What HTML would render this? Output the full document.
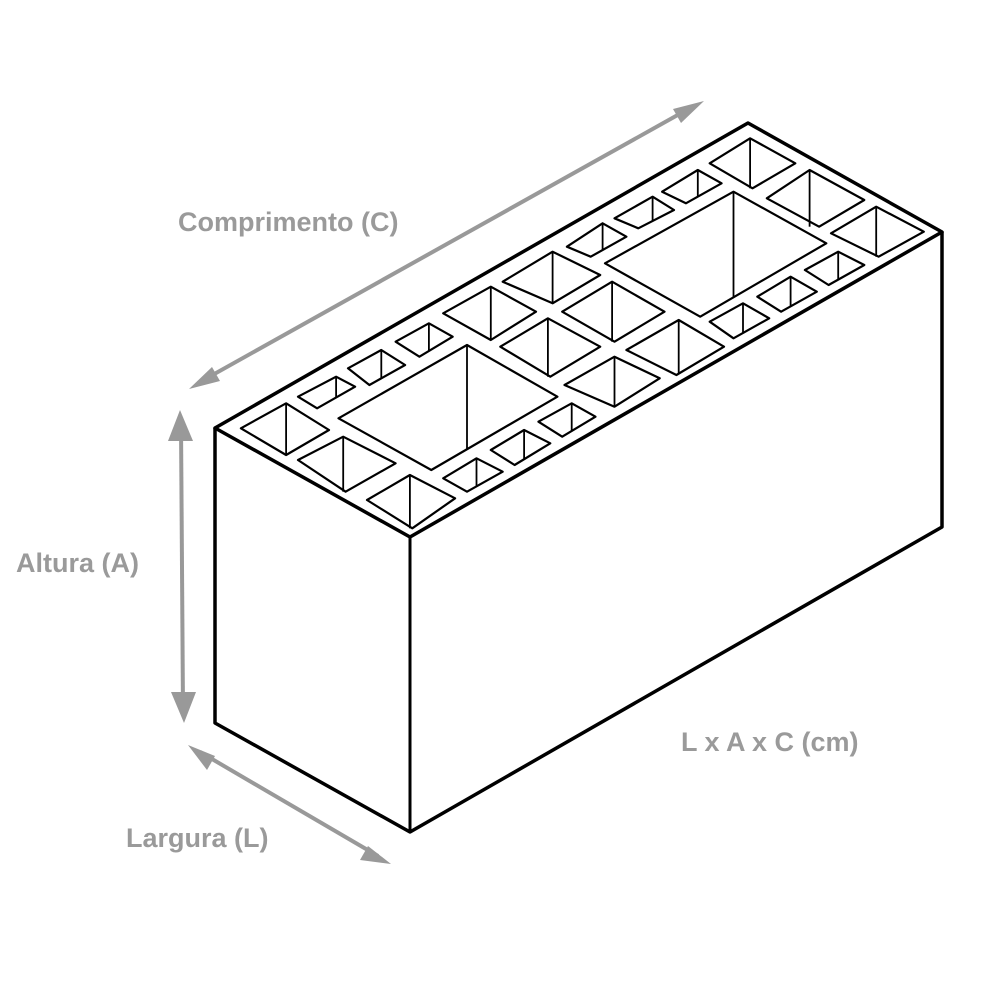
<!DOCTYPE html>
<html><head><meta charset="utf-8"><style>
html,body{margin:0;padding:0;background:#fff;}
svg{display:block}
text{font-family:"Liberation Sans",sans-serif;font-weight:bold;fill:#9a9a9a;font-size:27px}
</style></head><body>
<svg id="s" width="1000" height="1000" viewBox="0 0 1000 1000" xmlns="http://www.w3.org/2000/svg">
<g stroke="#999" stroke-width="4" fill="#999">
<line x1="200" y1="382" x2="692" y2="107"/>
<polygon points="189,389 212,367 220,381" stroke="none"/>
<polygon points="704,101 681,123 673,109" stroke="none"/>
<line x1="181" y1="425" x2="183" y2="710"/>
<polygon points="180,410 168,441 193,441" stroke="none"/>
<polygon points="184,723 171,692 196,692" stroke="none"/>
<line x1="200" y1="752" x2="378" y2="856"/>
<polygon points="188,745 207,770 215,756" stroke="none"/>
<polygon points="391,864 360,860 368,846" stroke="none"/>
</g>
<text x="178" y="231">Comprimento (C)</text>
<text x="16" y="572">Altura (A)</text>
<text x="126" y="847">Largura (L)</text>
<text x="681" y="751">L x A x C (cm)</text>
<g id="box" fill="none" stroke="#000" stroke-linejoin="round">
<polygon points="215,428 748,123 942,232 410,537" stroke-width="3.5"/>
<polyline points="215,428 215,723 410,832 942,527 942,232" stroke-width="3.5"/>
<line x1="410" y1="537" x2="410" y2="832" stroke-width="3"/>
</g>
<g id="holes" fill="none" stroke="#000" stroke-width="2.2" stroke-linejoin="round"></g>
</svg>
<script>
var sx=740/1555, sy=1/3;
var H=[
[[65,925],[160,850],[250,930],[160,1005]],
[[185,1020],[280,950],[390,1030],[285,1115]],
[[330,1140],[420,1065],[515,1135],[425,1225]],
[[270,895],[540,675],[730,830],[465,1050]],
[[185,830],[265,770],[305,800],[225,865]],
[[290,745],[360,690],[410,735],[335,795]],
[[390,665],[460,610],[510,650],[440,710]],
[[490,580],[590,500],[685,575],[590,660]],
[[615,485],[720,395],[820,465],[720,550]],
[[750,380],[825,310],[875,350],[800,410]],
[[850,295],[930,230],[975,270],[900,325]],
[[950,215],[1025,150],[1075,190],[1000,250]],
[[1050,130],[1135,55],[1230,130],[1140,205]],
[[1170,235],[1260,150],[1375,240],[1280,320]],
[[1305,340],[1400,260],[1500,335],[1405,410]],
[[830,430],[1100,215],[1295,370],[1030,590]],
[[1250,450],[1320,395],[1375,435],[1300,495]],
[[1150,530],[1220,470],[1275,515],[1200,575]],
[[1050,605],[1120,550],[1175,595],[1100,655]],
[[740,575],[845,485],[955,575],[850,665]],
[[610,680],[710,595],[820,680],[715,770]],
[[875,690],[985,600],[1080,680],[980,765]],
[[745,795],[850,710],[945,775],[850,860]],
[[690,905],[760,850],[810,890],[740,950]],
[[590,990],[660,930],[715,970],[640,1035]],
[[490,1075],[560,1015],[615,1055],[540,1115]]
];
var g=document.getElementById('holes'),out='';
H.forEach(function(h){
 var p=h.map(function(q){return [q[0]*sx+210,q[1]*sy+120];});
 out+='<polygon points="'+p.map(function(q){return q[0].toFixed(1)+','+q[1].toFixed(1)}).join(' ')+'"/>';
 var t=p[1],r=p[2],b=p[3],x=t[0],y;
 var a=(r[0]-b[0]);
 if(Math.abs(a)<0.01)y=b[1];else{var k=(x-b[0])/a;k=Math.max(0,Math.min(1,k));y=b[1]+k*(r[1]-b[1]);}
 out+='<line x1="'+x.toFixed(1)+'" y1="'+t[1].toFixed(1)+'" x2="'+x.toFixed(1)+'" y2="'+y.toFixed(1)+'" stroke-width="1.8"/>';
});
g.innerHTML=out;
</script>
</body></html>
